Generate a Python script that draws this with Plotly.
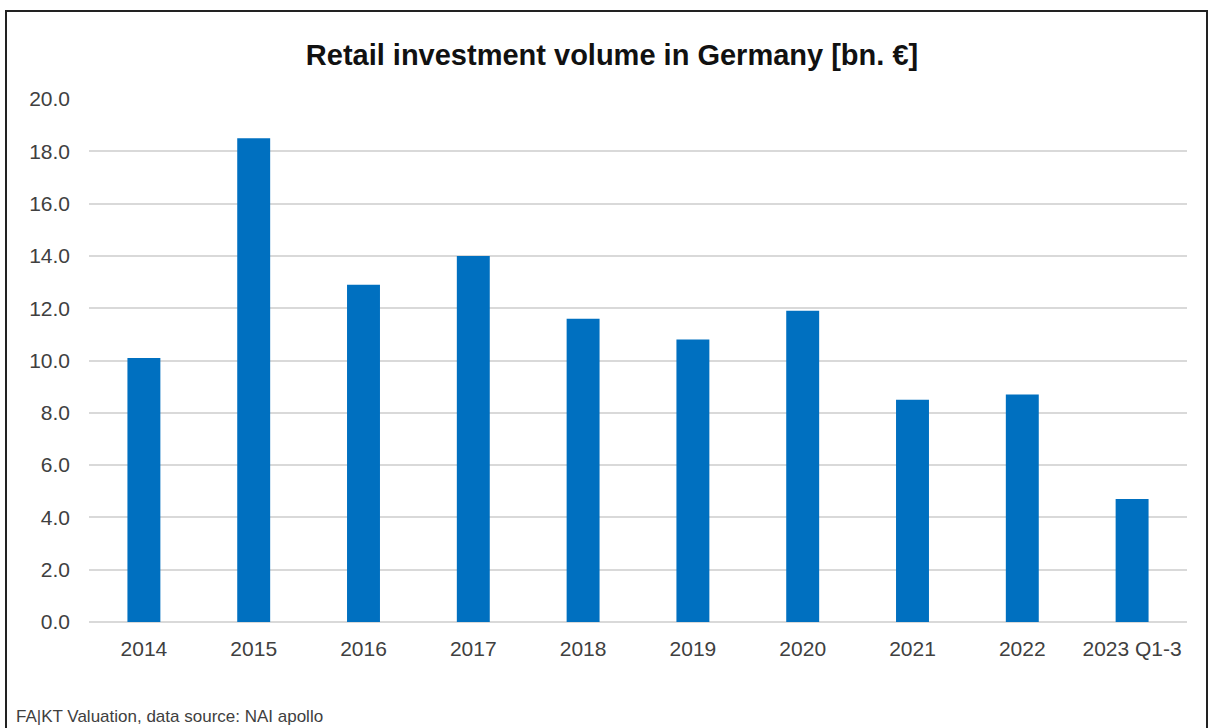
import plotly.graph_objects as go

categories = ["2014", "2015", "2016", "2017", "2018", "2019", "2020", "2021", "2022", "2023 Q1-3"]
values = [10.1, 18.5, 12.9, 14.0, 11.6, 10.8, 11.9, 8.5, 8.7, 4.7]
y_ticks = [0, 2, 4, 6, 8, 10, 12, 14, 16, 18, 20]
y_tick_labels = [f"{v:.1f}" for v in y_ticks]

title_text = "Retail investment volume in Germany [bn. €]"
source_text = "FA|KT Valuation, data source: NAI apollo"

fig = go.Figure(
    go.Bar(x=categories, y=values, marker=dict(color="#0070C0", line=dict(width=0)))
)

W, H = 1210, 728
L, R, T, B = 89, 23, 99, 106
pw = W - L - R
ph = H - T - B

def px_x(px):
    return (px - L) / pw

def px_y(py):
    return (H - B - py) / ph

fig.update_layout(
    width=W,
    height=H,
    margin=dict(l=L, r=R, t=T, b=B),
    paper_bgcolor="white",
    plot_bgcolor="white",
    bargap=0.7,
    showlegend=False,
    font=dict(family="Liberation Sans, Arial, sans-serif", color="#404040"),
    title=dict(
        text="<b>" + title_text + "</b>",
        x=612 / W,
        xref="container",
        xanchor="center",
        y=1 - 55 / H,
        yref="container",
        yanchor="middle",
        font=dict(size=29, color="#111111", family="Liberation Sans, Arial, sans-serif"),
    ),
    xaxis=dict(
        showgrid=False,
        showline=False,
        ticks="",
        tickfont=dict(size=21, color="#404040"),
        ticklabelstandoff=12,
    ),
    yaxis=dict(
        range=[0, 20],
        tickvals=y_ticks,
        ticktext=y_tick_labels,
        showgrid=True,
        gridcolor="#D9D9D9",
        gridwidth=1.5,
        zeroline=True,
        zerolinecolor="#D9D9D9",
        zerolinewidth=1.5,
        showline=False,
        ticks="",
        tickfont=dict(size=21, color="#404040"),
        ticklabelstandoff=18,
    ),
    annotations=[
        dict(
            text=source_text,
            xref="paper",
            yref="paper",
            x=px_x(14),
            y=px_y(716),
            xanchor="left",
            yanchor="middle",
            showarrow=False,
            font=dict(size=17, color="#404040"),
        )
    ],
    shapes=[
        dict(
            type="rect",
            xref="paper",
            yref="paper",
            x0=px_x(6),
            x1=px_x(1207),
            y0=px_y(745),
            y1=px_y(11),
            line=dict(color="#222222", width=2),
            fillcolor="rgba(0,0,0,0)",
            layer="above",
        )
    ],
)

fig.write_html(
    "out.html",
    config={"displayModeBar": False},
    post_script="document.body.style.margin='0';document.body.style.overflow='hidden';",
)
